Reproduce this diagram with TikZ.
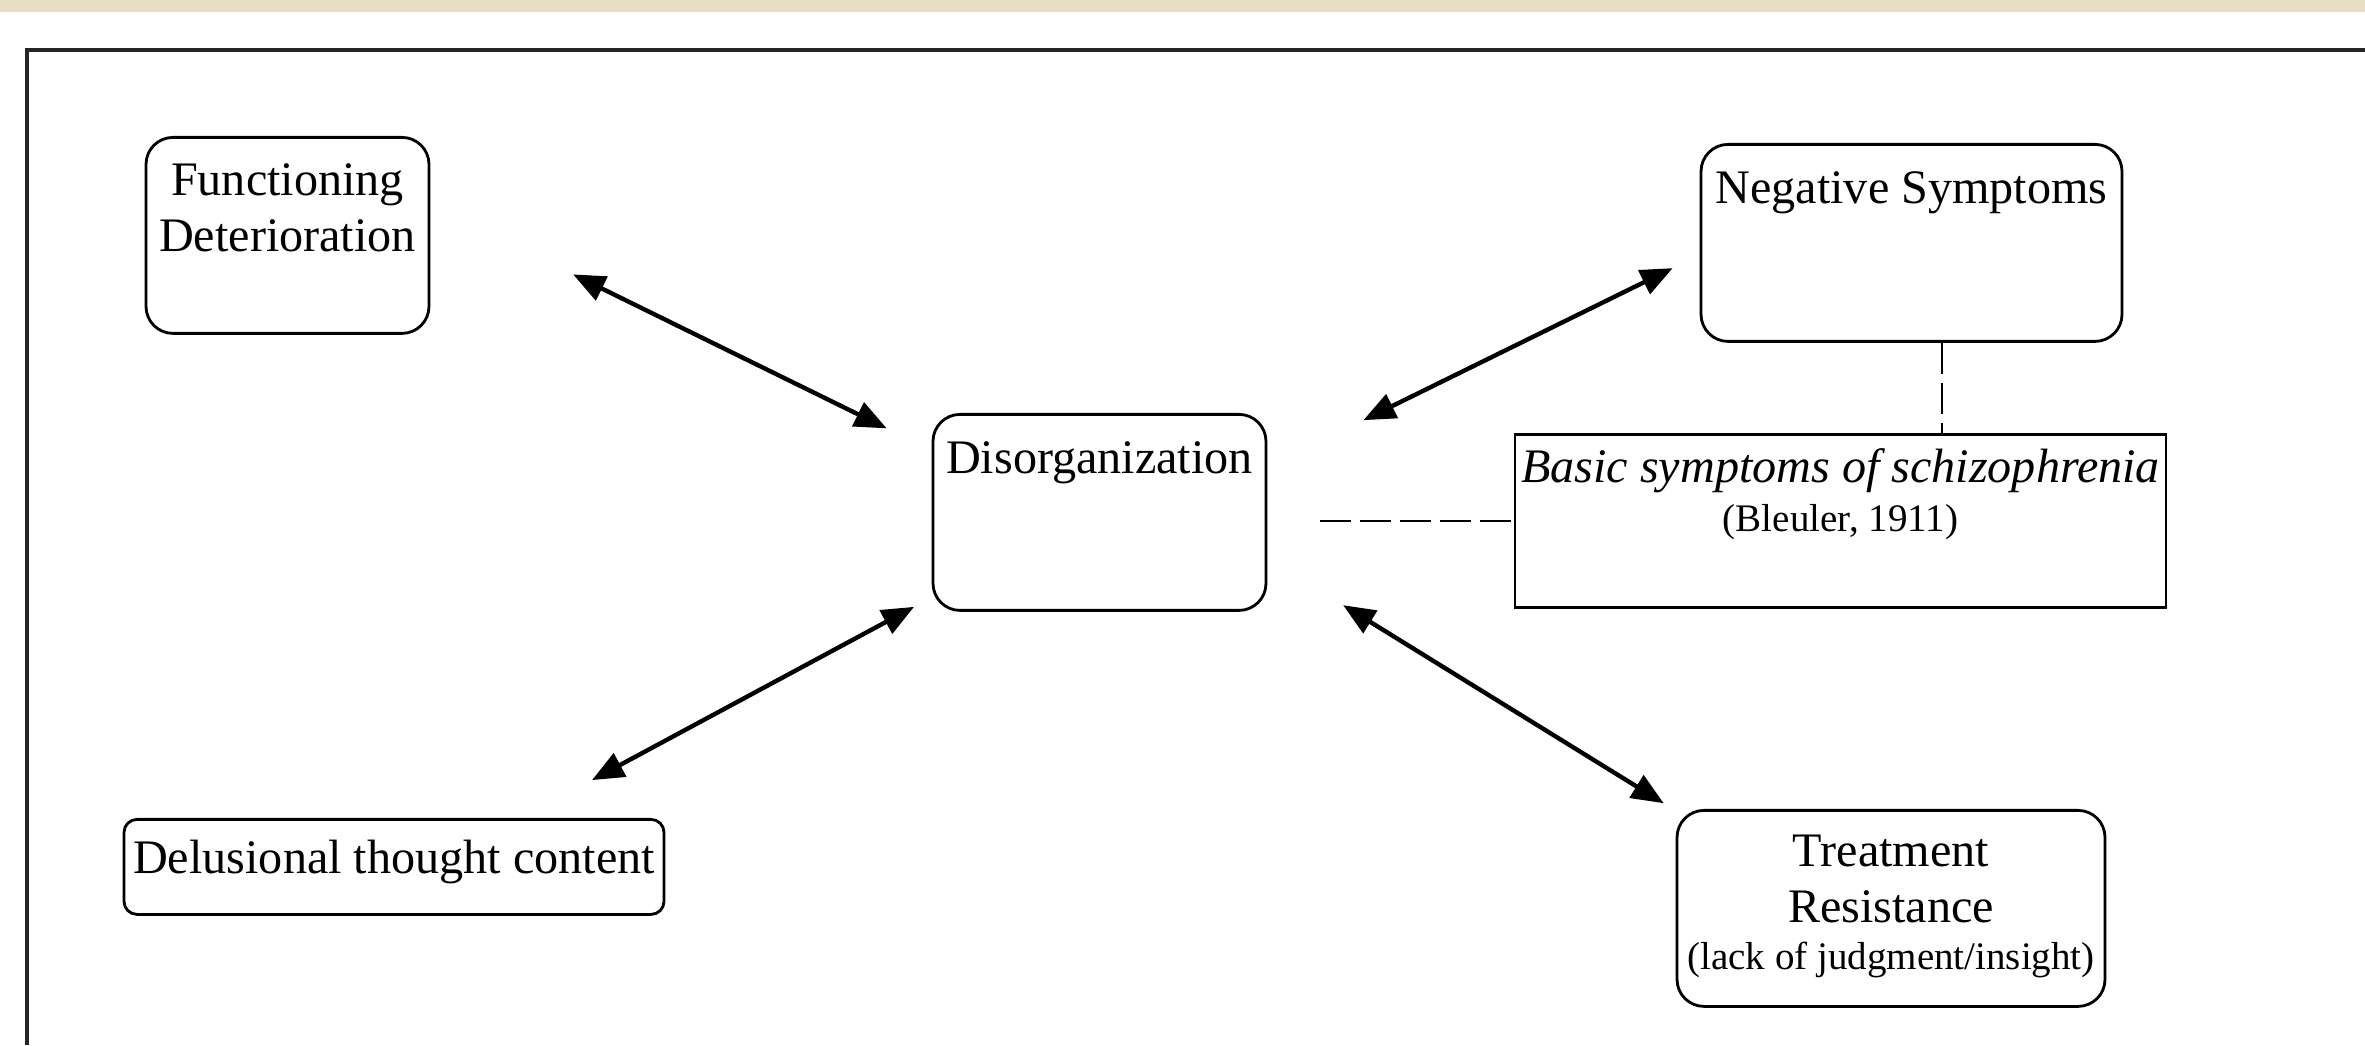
\documentclass[tikz,border=0pt]{standalone}
\usepackage{fontspec}
\setmainfont{Liberation Serif}
\usetikzlibrary{arrows.meta,positioning}
\definecolor{bandbeige}{RGB}{232,224,198}

\begin{document}
\begin{tikzpicture}[x=1cm,y=1cm]
\tikzset{
  boxtext/.style={font=\fontsize{13.7}{16.1}\selectfont,align=center,inner xsep=0.5mm},
  roundbox/.style={boxtext,rectangle,rounded corners=2.7mm,draw=black,line width=0.8pt,anchor=north},
  plainbox/.style={boxtext,rectangle,draw=black,line width=0.8pt,anchor=north},
  twoway/.style={draw=black,line width=1.25pt,>={Triangle[length=3.2mm,width=2.6mm]},<->},
  dashlink/.style={draw=black,line width=0.7pt,dash pattern=on 3.1mm off 0.9mm}
}
\useasboundingbox (0,0) rectangle (23.65,10.45);
\fill[bandbeige] (0,10.33) rectangle (23.65,10.45);
\draw[line width=1.1pt,black!85] (0.27,0) -- (0.27,9.95) -- (23.65,9.95);
\node[roundbox,minimum width=2.83cm,inner ysep=2.6mm,text height=8.86mm,text depth=5.54mm] (n_func) at (2.875,9.09) {Functioning\\Deterioration};
\node[roundbox,minimum width=4.21cm,inner ysep=2.7mm,text height=3.2mm,text depth=11.1mm] (n_neg) at (19.115,9.02) {Negative Symptoms};
\node[roundbox,minimum width=3.33cm,inner ysep=2.7mm,text height=3.2mm,text depth=11mm] (n_dis) at (10.995,6.32) {Disorganization};
\node[plainbox,minimum width=6.51cm,inner ysep=1.9mm,text height=7.8mm,text depth=5.7mm] (n_basic) at (18.405,6.12) {\textit{Basic symptoms of schizophrenia}\\[-2.2pt]{\fontsize{11.1}{13}\selectfont(Bleuler, 1911)}};
\node[roundbox,rounded corners=1.3mm,minimum width=5.4cm,inner ysep=2.2mm,text height=3.2mm,text depth=1.9mm] (n_delu) at (3.94,2.27) {Delusional thought content};
\node[roundbox,minimum width=4.28cm,inner ysep=2.6mm,text height=13.3mm,text depth=1.1mm] (n_treat) at (18.91,2.36) {Treatment\\Resistance\\[-1mm]{\fontsize{11.1}{13}\selectfont(lack of judgment/insight)}};
\draw[twoway,shorten <=15.9mm,shorten >=5mm] ([yshift=3.1mm]n_func.east) -- ([yshift=6.2mm]n_dis.west);
\draw[twoway,shorten <=3mm,shorten >=10.7mm] ([yshift=-1.2mm]n_neg.west) -- ([yshift=4.5mm]n_dis.east);
\draw[twoway,shorten <=8mm,shorten >=2mm] ([xshift=12.75mm]n_delu.north) -- ([yshift=-8.5mm]n_dis.west);
\draw[twoway,shorten <=8.9mm,shorten >=1.1mm] ([yshift=-4.6mm]n_dis.east) -- ([xshift=-21.8mm]n_treat.north);
\coordinate (c_dash) at ([xshift=-19.4mm]n_basic.west);
\draw[dashlink] (c_dash) -- (n_basic.west);
\coordinate (c_vtop) at ([xshift=3.05mm]n_neg.south);
\draw[dashlink] (c_vtop) -- (c_vtop |- n_basic.north);
\end{tikzpicture}
\end{document}
